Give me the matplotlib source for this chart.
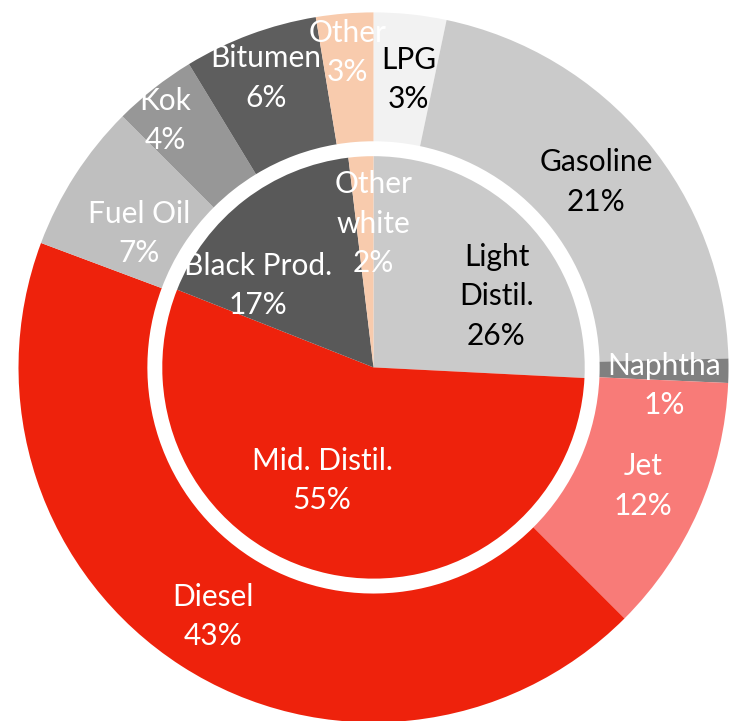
import numpy as np
import matplotlib.pyplot as plt

plt.rcParams['font.family'] = ['Lato', 'DejaVu Sans']

# outer ring: products
outer_names = ['LPG', 'Gasoline', 'Naphtha', 'Jet', 'Diesel', 'Fuel Oil', 'Kok', 'Bitumen', 'Other']
outer_vals = [3.3, 21.3, 1.1, 11.8, 43.2, 6.8, 3.8, 6.1, 2.6]
outer_colors = ['#f2f2f2', '#cacaca', '#808080', '#f87b78', '#ee220c', '#bfbfbf', '#979797', '#5e5e5e', '#f8cbad']
outer_text = ['black', 'black', 'white', 'white', 'white', 'white', 'white', 'white', 'white']

# inner pie: product groups
inner_names = ['Light\nDistil.', 'Mid. Distil.', 'Black Prod.', 'Other\nwhite']
inner_vals = [25.8, 55.2, 17.1, 1.9]
inner_colors = ['#cacaca', '#ee220c', '#595959', '#f8cbad']
inner_text = ['black', 'white', 'white', 'white']

# label layout (radius + angle nudge for outer labels, polar pos for inner labels)
outer_lab_r = [0.817, 0.817, 0.82, 0.83, 0.835, 0.76, 0.91, 0.87, 0.89]
outer_lab_da = [-1, 0, -3, 0, 0, 3, 2, 0, 0]
inner_lab_pos = [(30, 0.40), (-114.4, 0.35), (144.7, 0.40), (90, 0.404)]

R = 355.0
fig = plt.figure(figsize=(7.30, 7.21), dpi=100)
ax = fig.add_axes([0, 0, 1, 1])

ax.pie(outer_vals, radius=1.0, startangle=90, counterclock=False, colors=outer_colors,
       wedgeprops=dict(width=1 - 0.637, linewidth=0))
ax.pie(inner_vals, radius=0.595, startangle=90, counterclock=False, colors=inner_colors,
       wedgeprops=dict(linewidth=0))

def mid_angles(vals):
    v = np.array(vals, dtype=float)
    cum = np.cumsum(v) - v / 2
    return 90 - 360 * cum / v.sum()

fs = 21.5
for name, val, ang, r, da, c in zip(outer_names, outer_vals, mid_angles(outer_vals),
                                    outer_lab_r, outer_lab_da, outer_text):
    a = np.deg2rad(ang + da)
    ax.text(r * np.cos(a), r * np.sin(a), f"{name}\n{round(val)}%", ha='center', va='center',
            color=c, fontsize=fs, linespacing=1.5)

for name, val, (ang, r), c in zip(inner_names, inner_vals, inner_lab_pos, inner_text):
    a = np.deg2rad(ang)
    ax.text(r * np.cos(a), r * np.sin(a), f"{name}\n{round(val)}%", ha='center', va='center',
            color=c, fontsize=fs, linespacing=1.5)

ax.set_xlim(-373.5 / R, (730 - 373.5) / R)
ax.set_ylim(-(721 - 367.4) / R, 367.4 / R)
ax.set_aspect('equal')
ax.axis('off')

fig.savefig('out.png', dpi=100)
